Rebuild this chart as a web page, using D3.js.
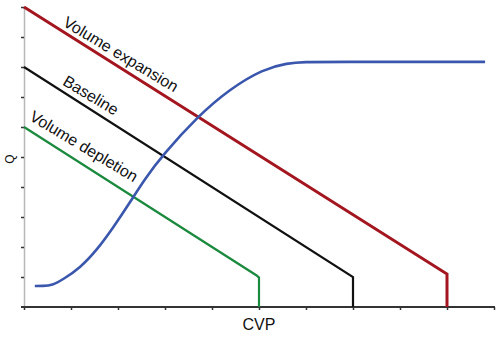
<!DOCTYPE html>
<html>
<head>
<meta charset="utf-8">
<script src="https://cdn.jsdelivr.net/npm/d3@7"></script>
<style>
  html, body { margin: 0; padding: 0; background: #fff; }
  svg { display: block; font-family: "Liberation Sans", Arial, sans-serif; }
</style>
</head>
<body>
<svg id="chart" width="500" height="339"></svg>
<script>
// ---- data ----
const xDomain = [0, 10];              // CVP (arbitrary units, 10 tick intervals)
const yDomain = [0, 10];              // Q (arbitrary units, 10 tick intervals)

const expansionCVP = [0, 9, 9];
const expansionQ   = [10, 1.1, 0];

const baselineCVP  = [0, 7, 7];
const baselineQ    = [8, 1.0, 0];

const depletionCVP = [0, 4.95, 5, 5];
const depletionQ   = [6, 1.05, 0.98, 0];

const cardiacCVP = [0.23, 0.40, 0.60, 0.83, 1.19, 1.55, 1.89, 2.26, 2.57, 2.96, 3.68, 4.38, 5.09, 5.60, 6.00, 6.40, 9.81];
const cardiacQ   = [0.70, 0.70, 0.72, 0.92, 1.30, 1.90, 2.63, 3.50, 4.27, 5.08, 6.33, 7.27, 7.93, 8.13, 8.17, 8.17, 8.17];

const lineLabels = ["Volume expansion", "Baseline", "Volume depletion"];
const xTitle = "CVP";
const yTitle = "Q";

// ---- drawing ----
const svg = d3.select("#chart");
const x = d3.scaleLinear().domain(xDomain).range([24, 494]);
const y = d3.scaleLinear().domain(yDomain).range([307, 7]);

// y axis (grey line, dark small ticks on the left)
const yAxis = svg.append("g").attr("transform", `translate(${x(0)},0)`)
  .call(d3.axisLeft(y).ticks(10).tickSize(3).tickSizeOuter(0).tickFormat(""));
yAxis.select(".domain").attr("stroke", "#b8b8b8").attr("stroke-width", 1.5);
yAxis.selectAll(".tick line").attr("stroke", "#333").attr("stroke-width", 1.5);
yAxis.selectAll(".tick").filter(d => d === 0).remove();

// x axis (dark line, ticks below)
const xAxis = svg.append("g").attr("transform", `translate(0,${y(0)})`)
  .call(d3.axisBottom(x).ticks(10).tickSize(3).tickSizeOuter(0).tickFormat(""));
xAxis.select(".domain").attr("stroke", "#333").attr("stroke-width", 2)
  .attr("d", `M${x(0) - 3},0H${x(10) + 1}`);
xAxis.selectAll(".tick line").attr("stroke", "#333").attr("stroke-width", 1.5);

const straight = d3.line().x(d => x(d[0])).y(d => y(d[1]));
const smooth = d3.line().x(d => x(d[0])).y(d => y(d[1])).curve(d3.curveBasis);

function draw(xs, ys, gen, color, w) {
  svg.append("path")
    .datum(xs.map((v, i) => [v, ys[i]]))
    .attr("d", gen)
    .attr("fill", "none")
    .attr("stroke", color)
    .attr("stroke-width", w)
    .attr("stroke-linejoin", "miter");
}

draw(depletionCVP, depletionQ, straight, "#1b8a3e", 2.2);
draw(baselineCVP, baselineQ, straight, "#111111", 2.2);
draw(expansionCVP, expansionQ, straight, "#a3161f", 3);
draw(cardiacCVP, cardiacQ, smooth, "#3a57ad", 2.6);

// labels along the lines
const labelPos = [
  { cx: 118, cy: 59 },
  { cx: 88,  cy: 100 },
  { cx: 81,  cy: 151 }
];
lineLabels.forEach((t, i) => {
  svg.append("text")
    .attr("transform", `translate(${labelPos[i].cx},${labelPos[i].cy}) rotate(31)`)
    .attr("text-anchor", "middle")
    .attr("font-size", 16)
    .attr("fill", "#111")
    .text(t);
});

svg.append("text")
  .attr("x", x(5)).attr("y", 330)
  .attr("text-anchor", "middle")
  .attr("font-size", 16)
  .attr("fill", "#111")
  .text(xTitle);

svg.append("text")
  .attr("transform", "translate(14,159) rotate(-90)")
  .attr("text-anchor", "middle")
  .attr("font-size", 12)
  .attr("fill", "#111")
  .text(yTitle);
</script>
</body>
</html>
